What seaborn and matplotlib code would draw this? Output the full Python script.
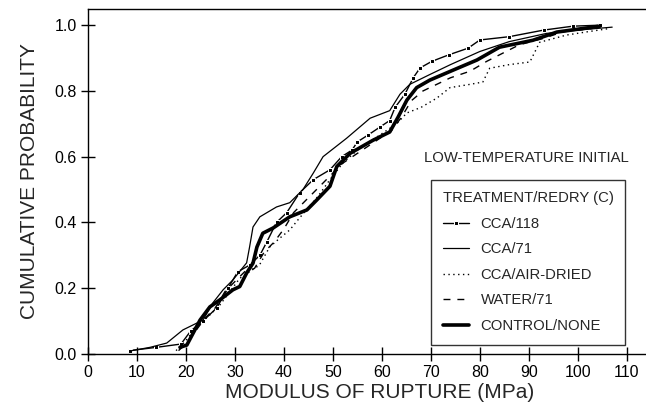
import matplotlib
matplotlib.use('Agg')
import matplotlib.pyplot as plt
import seaborn as sns
import pandas as pd
import numpy as np

# curve points (MPa, cumulative probability)
cca118_x = [8.5, 14, 19, 21, 23.5, 26.3, 28.6, 30.6, 33, 35.1, 36.5, 38.5, 40.6, 43.2, 46, 49.4, 51.8,
            53.9, 55, 57.2, 59.6, 61.6, 62.7, 64.7, 66.4, 67.8, 70.2, 73.7, 77.6, 80, 86, 93, 99, 104.5]
cca118_y = [0.01, 0.02, 0.03, 0.07, 0.1, 0.14, 0.2, 0.25, 0.27, 0.3, 0.34, 0.4, 0.43, 0.49, 0.53, 0.56, 0.6,
            0.62, 0.645, 0.666, 0.69, 0.71, 0.75, 0.79, 0.84, 0.87, 0.89, 0.91, 0.93, 0.955, 0.965, 0.985, 0.997, 1.0]

cca71_x = [9, 12.7, 16.1, 19.4, 23.5, 25.5, 27.6, 29.6, 32.4, 33, 33.7, 35.1, 38.5, 41.2, 43.9, 46, 48,
           52.8, 57.6, 61.6, 63.7, 65.7, 69.8, 74, 80, 86, 93.6, 100, 107]
cca71_y = [0.01, 0.02, 0.033, 0.073, 0.103, 0.155, 0.195, 0.225, 0.277, 0.325, 0.386, 0.417, 0.447, 0.46, 0.5,
           0.55, 0.6, 0.656, 0.717, 0.74, 0.79, 0.82, 0.85, 0.88, 0.92, 0.95, 0.975, 0.985, 0.994]

air_x = [18, 20, 22, 25, 27, 29, 31, 33, 35, 37.1, 39, 41.2, 43, 44.7, 47, 49.4, 52, 55, 58, 61, 63,
         65.1, 68, 71.2, 73.9, 78, 80.6, 82, 86, 90.2, 92.2, 97.7, 102, 106.5]
air_y = [0.01, 0.04, 0.08, 0.12, 0.15, 0.19, 0.23, 0.25, 0.27, 0.325, 0.35, 0.377, 0.41, 0.44, 0.48, 0.53, 0.58,
         0.62, 0.65, 0.68, 0.7, 0.733, 0.75, 0.778, 0.81, 0.82, 0.827, 0.869, 0.88, 0.888, 0.948, 0.97, 0.98, 0.99]

water_x = [18.5, 20, 22, 24, 26, 28, 30, 32, 34, 36, 38, 40, 42, 44, 46, 48, 50, 52, 54, 57, 60, 62,
           64, 66, 68.4, 71.2, 74, 78, 81.4, 84.7, 88, 93, 97, 103]
water_y = [0.01, 0.03, 0.07, 0.11, 0.14, 0.19, 0.22, 0.25, 0.26, 0.31, 0.34, 0.38, 0.43, 0.46, 0.49, 0.52,
           0.55, 0.58, 0.6, 0.63, 0.66, 0.68, 0.72, 0.77, 0.8, 0.82, 0.84, 0.86, 0.89, 0.915, 0.94, 0.96, 0.98, 0.99]

control_x = [18.8, 20.2, 22.9, 24.9, 26.9, 29.6, 31, 32.4, 33.7, 34.5, 35.7, 37.8, 41.2, 44.7, 46.7, 49.4,
             50.8, 53.5, 58.2, 61.6, 63.3, 65.1, 67.1, 69.8, 74.5, 79.4, 84, 90.8, 95.7, 104.5]
control_y = [0.02, 0.027, 0.103, 0.143, 0.164, 0.195, 0.205, 0.246, 0.276, 0.325, 0.367, 0.383, 0.417, 0.438,
             0.468, 0.51, 0.57, 0.61, 0.65, 0.675, 0.72, 0.772, 0.81, 0.833, 0.863, 0.894, 0.933, 0.954, 0.979, 0.997]

labels = ['CCA/118', 'CCA/71', 'CCA/AIR-DRIED', 'WATER/71', 'CONTROL/NONE']
xticks = list(range(0, 111, 10))
yticks = [0.0, 0.2, 0.4, 0.6, 0.8, 1.0]

sns.set_style('ticks')
plt.rcParams['font.family'] = ['Liberation Sans', 'DejaVu Sans']

fig = plt.figure(figsize=(6.46, 4.12), dpi=100)
ax = fig.add_axes([0.136, 0.141, 0.864, 0.837])

series = [(cca118_x, cca118_y), (cca71_x, cca71_y), (air_x, air_y), (water_x, water_y), (control_x, control_y)]
styles = [dict(lw=1.0, ls='-', marker='s', markersize=2.5),
          dict(lw=0.9, ls='-'),
          dict(lw=1.0, ls=(0, (1, 2.5))),
          dict(lw=1.0, ls=(0, (5, 5))),
          dict(lw=2.6, ls='-')]
for (xs, ys), lab, st in zip(series, labels, styles):
    df = pd.DataFrame({'x': xs, 'y': ys})
    sns.lineplot(data=df, x='x', y='y', ax=ax, sort=False, estimator=None,
                 color='black', label=lab, **st)

ax.set_xlim(0, 113.9)
ax.set_ylim(0, 1.049)
ax.set_xticks(xticks)
ax.set_yticks(yticks)
ax.set_yticklabels([f'{t:.1f}' for t in yticks])
ax.tick_params(direction='inout', length=10, width=1, labelsize=11.5, colors='black', pad=3)
ax.spines['right'].set_visible(False)
for s in ['left', 'bottom', 'top']:
    ax.spines[s].set_color('black')
    ax.spines[s].set_linewidth(1)
ax.set_xlabel('MODULUS OF RUPTURE (MPa)', fontsize=15, labelpad=1)
ax.xaxis.set_label_coords(0.522, -0.085)
ax.set_ylabel('CUMULATIVE PROBABILITY', fontsize=15, labelpad=11)

ax.text(89.4, 0.596, 'LOW-TEMPERATURE INITIAL', ha='center', va='center', fontsize=10.7)

leg = ax.legend(title='TREATMENT/REDRY (C)', loc='upper left', bbox_to_anchor=(0.601, 0.527),
                fontsize=10.7, title_fontsize=10.7, frameon=True, fancybox=False, edgecolor='black',
                handlelength=1.75, labelspacing=0.77, borderpad=0.8, handletextpad=0.8)
leg.get_frame().set_linewidth(1)
leg._legend_box.align = 'left'

fig.savefig('out.png', dpi=100)
